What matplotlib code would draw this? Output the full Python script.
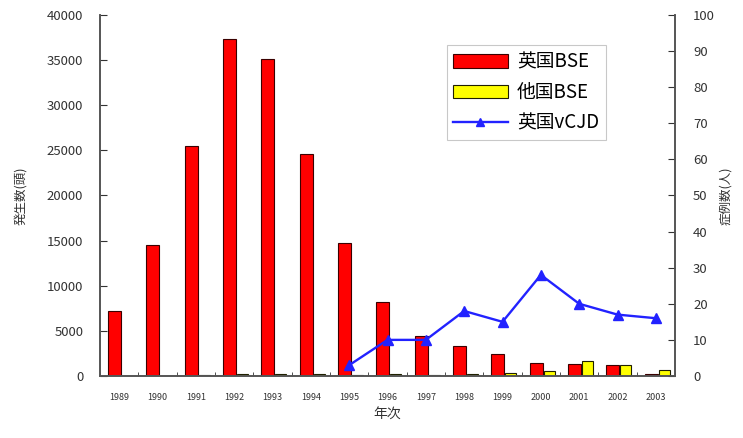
import matplotlib
matplotlib.use("Agg")
import matplotlib.pyplot as plt
import numpy as np

plt.rcParams['font.family'] = ['Noto Sans CJK JP', 'DejaVu Sans']

years = ["1989", "1990", "1991", "1992", "1993", "1994", "1995", "1996",
         "1997", "1998", "1999", "2000", "2001", "2002", "2003"]
uk_bse = [7200, 14500, 25500, 37300, 35100, 24600, 14700, 8200,
          4450, 3300, 2400, 1450, 1300, 1250, 250]
other_bse = [20, 40, 60, 200, 250, 200, 150, 250,
             150, 200, 300, 550, 1700, 1200, 700]
vcjd_years = ["1995", "1996", "1997", "1998", "1999", "2000", "2001", "2002", "2003"]
vcjd = [3, 10, 10, 18, 15, 28, 20, 17, 16]

fig = plt.figure(figsize=(7.43, 4.38), dpi=100)
ax = fig.add_axes([0.1346, 0.1416, 0.7739, 0.8242])
ax2 = ax.twinx()

x = np.arange(len(years))
w = 0.34
b1 = ax.bar(x - 0.12, uk_bse, width=w, color='#ff0000', edgecolor='#3a0000', linewidth=0.8, label='英国BSE', zorder=2)
b2 = ax.bar(x + 0.22, other_bse, width=w * 0.85, color='#ffff00', edgecolor='#202000', linewidth=0.8, label='他国BSE', zorder=2)

vx = [years.index(y) for y in vcjd_years]
l1, = ax2.plot(vx, vcjd, color='#2222ff', marker='^', markersize=7, linewidth=1.7, label='英国vCJD', zorder=3)

ax.set_xlim(-0.5, len(years) - 0.5)
ax.set_ylim(0, 40000)
ax2.set_ylim(0, 100)
ax.set_yticks(np.arange(0, 40001, 5000))
ax2.set_yticks(np.arange(0, 101, 10))
ax.set_xticks(x)
ax.set_xticklabels(years, fontsize=6.5, color='#333333')
ax.set_xticks(np.arange(-0.5, len(years), 1), minor=True)
ax.tick_params(axis='x', which='major', length=0, pad=12)
ax.tick_params(axis='x', which='minor', direction='in', length=3, color='#333333')
ax.tick_params(axis='y', direction='in', length=5, labelsize=9.5, colors='#333333', pad=12)
ax2.tick_params(axis='y', direction='in', length=5, labelsize=9.5, colors='#333333', pad=13)

for a in (ax, ax2):
    a.spines['top'].set_visible(False)
    for s in ('left', 'right', 'bottom'):
        a.spines[s].set_color('#555555')
        a.spines[s].set_linewidth(1.2)

ax.set_ylabel('発生数(頭)', fontsize=9, color='#333333', labelpad=14)
ax2.set_ylabel('症例数(人)', fontsize=9, color='#333333', labelpad=3)
ax.set_xlabel('年次', fontsize=10, color='#333333', labelpad=4)

leg = ax.legend(handles=[b1, b2, l1], loc='upper left', bbox_to_anchor=(0.603, 0.917),
                fontsize=13.5, frameon=True, fancybox=False, edgecolor='#bbbbbb',
                handlelength=2.9, handleheight=0.7, borderpad=0.35, labelspacing=0.5,
                handletextpad=0.5, borderaxespad=0, markerscale=0.8)
leg.get_frame().set_linewidth(0.8)

fig.savefig('out.png', dpi=100)
